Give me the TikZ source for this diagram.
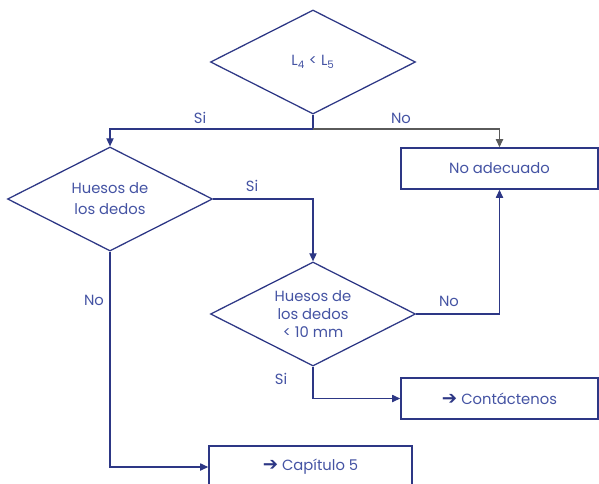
\documentclass[tikz,border=0pt]{standalone}
\usepackage{fontspec}
\setmainfont{Poppins}
\newfontfamily\symfont{DejaVu Sans}
\usetikzlibrary{shapes.geometric,arrows.meta}

\definecolor{linecol}{HTML}{2D3785}
\definecolor{textcol}{HTML}{4453A3}
\definecolor{greycol}{HTML}{5A5A5A}

\newcommand{\goarrow}{{\symfont\bfseries\fontsize{13}{13}\selectfont\color{linecol}\char"2794}}

\tikzset{
    decision/.style={diamond, draw=linecol, line width=0.9pt, inner sep=0pt,
        aspect=2, minimum width=5.125cm, minimum height=2.6cm,
        text=textcol, align=center, font=\fontsize{10.5}{15}\selectfont},
    result/.style={rectangle, draw=linecol, line width=1.1pt,
        text=textcol, font=\fontsize{10.5}{13}\selectfont},
    flow/.style={draw=linecol, line width=0.8pt, -{Triangle[length=2mm,width=1.8mm]}},
    lbl/.style={text=textcol, font=\fontsize{10.5}{13}\selectfont}
}

\begin{document}
\begin{tikzpicture}[x=0.025cm, y=-0.025cm]
        \useasboundingbox (0,0) rectangle (599,483);
        \clip (0,0) rectangle (599,483);

        % Decisions
        \node[decision] (lratio) at (313,62) {L\textsubscript{4} < L\textsubscript{5}};
        \node[decision] (dedos) at (110,199) {Huesos de\\los dedos};
        \node[decision, font=\fontsize{10.5}{12.5}\selectfont] (dedosmm) at (313,314) {Huesos de\\los dedos\\< 10 mm};

        % Results
        \node[result, minimum width=4.925cm, minimum height=1.025cm] (noadec) at (499.5,168.5) {No adecuado};
        \node[result, minimum width=4.925cm, minimum height=1.025cm] (contact) at (499.5,398.5) {\goarrow\ Contáctenos};
        \node[result, minimum width=5.075cm, minimum height=1.05cm] (cap5) at (310.5,467) {\goarrow\ Capítulo 5};

        % Connectors
        \coordinate (split) at (313,129);
        \draw[draw=linecol, line width=0.8pt] (lratio.south) -- (split);
        \draw[flow] (split) -| (dedos.north);
        \draw[flow, draw=greycol] (split) -| (noadec.north);
        \draw[flow] (dedos.east) -| (dedosmm.north);
        \draw[flow] (dedosmm.east) -| (noadec.south);
        \draw[flow] (dedosmm.south) |- (contact.west);
        \draw[flow] (dedos.south) |- (cap5.west);

        % Labels
        \node[lbl] (si1) at (200,118) {Si};
        \node[lbl] (no1) at (401,118) {No};
        \node[lbl] (si2) at (252,186) {Si};
        \node[lbl] (no2) at (449,301) {No};
        \node[lbl] (si3) at (281,379) {Si};
        \node[lbl] (no3) at (94,300) {No};
    \end{tikzpicture}
\end{document}
